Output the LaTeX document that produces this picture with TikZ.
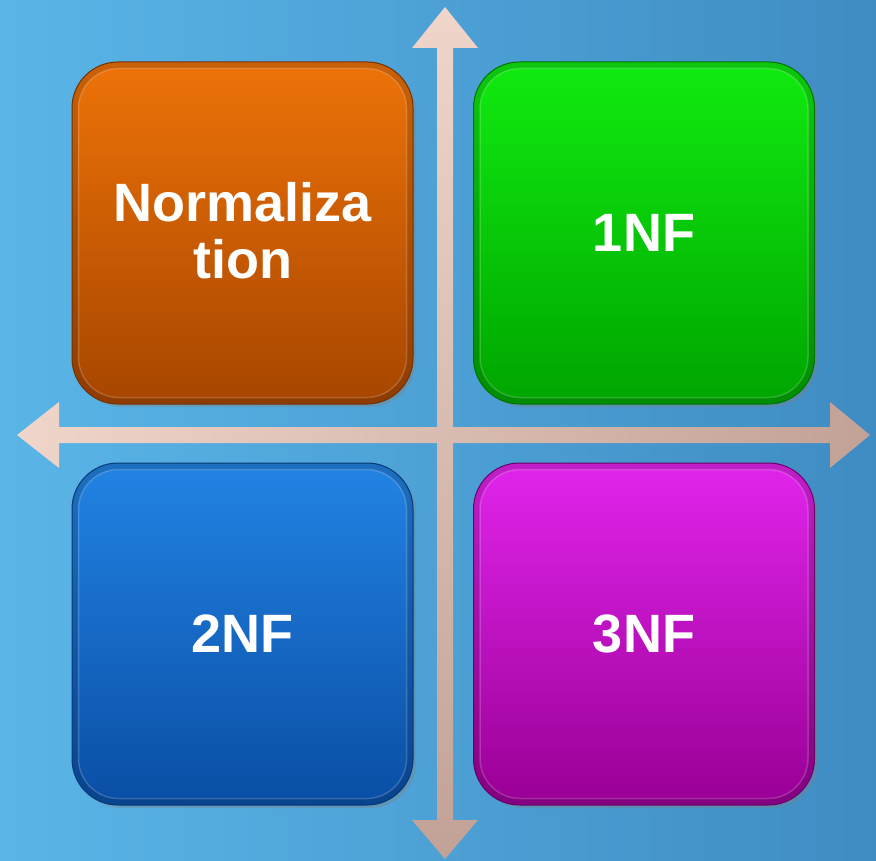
\documentclass[tikz,border=0pt]{standalone}
\usepackage{fontspec}
\setmainfont{Liberation Sans}
\usetikzlibrary{shadows}
\definecolor{bgL}{HTML}{5AB5E7}
\definecolor{bgR}{HTML}{3F8CC3}
\definecolor{arLt}{HTML}{F0D5CB}
\definecolor{arDk}{HTML}{C2A296}
\definecolor{orT}{HTML}{EC7208}
\definecolor{orB}{HTML}{A84600}
\definecolor{grT}{HTML}{10EA10}
\definecolor{grB}{HTML}{00A600}
\definecolor{blT}{HTML}{2282E2}
\definecolor{blB}{HTML}{0A4FA6}
\definecolor{mgT}{HTML}{E024EA}
\definecolor{mgB}{HTML}{9A0096}
\tikzset{
  quad/.style n args={2}{minimum width=341pt, minimum height=342pt, rounded corners=46pt,
    draw=#2!70!black, line width=1pt, top color=#1!85!black, bottom color=#2!85!black,
    drop shadow={opacity=0.35, shadow xshift=3pt, shadow yshift=-3pt}},
  bevel/.style n args={2}{rounded corners=40pt, top color=#1, bottom color=#2,
    draw=white, draw opacity=0.18, line width=1.5pt},
  lbl/.style={text=white, font=\fontsize{54}{50}\selectfont\bfseries, align=center},
  axis/.style={draw=none}
}
\begin{document}
\begin{tikzpicture}[x=1pt,y=-1pt]
\useasboundingbox (0,0) rectangle (876,861);
\shade[left color=bgL, right color=bgR] (0,0) rectangle (876,861);
% axes
\shade[axis, top color=arLt, bottom color=arDk]
  (445,7) -- (478,48) -- (453,48) -- (453,820) -- (478,820) -- (445,859)
  -- (412,820) -- (437,820) -- (437,48) -- (412,48) -- cycle;
\shade[axis, left color=arLt, right color=arDk]
  (17,435) -- (59,402) -- (59,427) -- (830,427) -- (830,402) -- (870,435)
  -- (830,468) -- (830,443) -- (59,443) -- (59,468) -- cycle;
% boxes
\node[quad={orT}{orB}] (norm) at (242.5,233) {};
\shade[bevel={orT}{orB}] ([shift={(7,7)}]norm.north west) rectangle ([shift={(-7,-7)}]norm.south east);
\node[lbl] at ([yshift=2pt]norm.center) {Normaliza\\[7pt]tion};

\node[quad={grT}{grB}] (nf1) at (644,233) {};
\shade[bevel={grT}{grB}] ([shift={(7,7)}]nf1.north west) rectangle ([shift={(-7,-7)}]nf1.south east);
\node[lbl] at (nf1) {1NF};

\node[quad={blT}{blB}] (nf2) at (242.5,634) {};
\shade[bevel={blT}{blB}] ([shift={(7,7)}]nf2.north west) rectangle ([shift={(-7,-7)}]nf2.south east);
\node[lbl] at (nf2) {2NF};

\node[quad={mgT}{mgB}] (nf3) at (644,634) {};
\shade[bevel={mgT}{mgB}] ([shift={(7,7)}]nf3.north west) rectangle ([shift={(-7,-7)}]nf3.south east);
\node[lbl] at (nf3) {3NF};
\end{tikzpicture}
\end{document}
